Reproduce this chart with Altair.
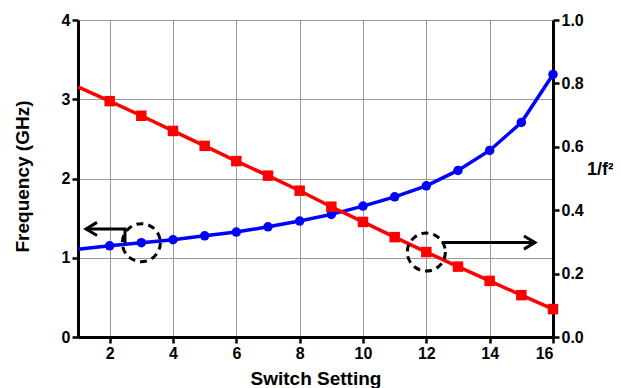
import altair as alt
import pandas as pd

# ---- data ----
switch = list(range(1, 17))
freq_ghz = [1.106, 1.151, 1.19, 1.227, 1.277, 1.324, 1.39, 1.463, 1.547, 1.652,
            1.769, 1.908, 2.102, 2.354, 2.707, 3.313]
inv_f2 = [0.789, 0.744, 0.698, 0.650, 0.603, 0.555, 0.509, 0.4615, 0.411, 0.363,
          0.315, 0.268, 0.222, 0.177, 0.132, 0.088]
x_ticks = [2, 4, 6, 8, 10, 12, 14, 16]
left_ticks = [0, 1, 2, 3, 4]
right_ticks = [0.0, 0.2, 0.4, 0.6, 0.8, 1.0]

# annotation geometry (data units)
arrow_s = [1.253, 2.484, 2.484, 12.485, 15.43]
arrow_f = [1.363, 1.363, 1.186, 1.192, 1.192]
arrow_g = ["a", "a", "a", "b", "b"]
arrow_o = [0, 1, 2, 0, 1]

df = pd.DataFrame({"s": switch, "f": freq_ghz, "r": inv_f2})
marked = df[df.s >= 2]
arrows = pd.DataFrame({"s": arrow_s, "f": arrow_f, "g": arrow_g, "o": arrow_o})
head_left = pd.DataFrame({"s": [arrow_s[0]], "f": [arrow_f[0]]})
head_right = pd.DataFrame({"s": [arrow_s[4]], "f": [arrow_f[4]]})
circ_left = df[df.s == 3]
circ_right = df[df.s == 12]

FONT = "Liberation Sans"

xscale = alt.Scale(domain=[1, 16], nice=False, zero=False)
xaxis = alt.Axis(values=x_ticks, title="Switch Setting", grid=True,
                 gridColor="#9a9a9a", gridWidth=1, titleY=41, titleBaseline="middle",
                 titleFontSize=19, labelFontSize=16)
X = alt.X("s:Q", scale=xscale, axis=xaxis)

lscale = alt.Scale(domain=[0, 4], nice=False, zero=True)
laxis = alt.Axis(values=left_ticks, title="Frequency (GHz)", grid=True,
                 gridColor="#9a9a9a", gridWidth=1, titleX=-56, titleY=156,
                 titleAngle=-90, titleAlign="center", titleBaseline="middle",
                 titleFontSize=19, labelFontSize=16)
YL = alt.Y("f:Q", scale=lscale, axis=laxis)

rscale = alt.Scale(domain=[0, 1], nice=False, zero=True)
raxis = alt.Axis(orient="right", values=right_ticks, format=".1f", grid=False,
                 title="1/f²", titleAngle=0, titleX=47, titleY=149,
                 titleAlign="center", titleBaseline="middle",
                 titleFontSize=18, labelFontSize=16)
YR = alt.Y("r:Q", scale=rscale, axis=raxis)

BLUE = "#0000ff"
RED = "#ff0000"

blue_line = alt.Chart(df).mark_line(color=BLUE, strokeWidth=3.5).encode(x=X, y=YL)
blue_pts = alt.Chart(marked).mark_point(shape="circle", filled=True, color=BLUE,
                                        size=90, opacity=1).encode(x=X, y=YL)
arrow_lines = alt.Chart(arrows).mark_line(color="black", strokeWidth=3,
                                          strokeJoin="miter").encode(
    x=X, y=YL, detail="g:N", order="o:Q")
hl = alt.Chart(head_left).mark_point(shape="M1,-0.6L0,0L1,0.6", size=484,
                                     filled=False, stroke="black", strokeWidth=3,
                                     opacity=1, strokeJoin="miter").encode(x=X, y=YL)
hr = alt.Chart(head_right).mark_point(shape="M-1,-0.6L0,0L-1,0.6", size=484,
                                      filled=False, stroke="black", strokeWidth=3,
                                      opacity=1, strokeJoin="miter").encode(x=X, y=YL)
cl = alt.Chart(circ_left).mark_point(shape="circle", size=1444, filled=False,
                                     stroke="black", strokeWidth=3,
                                     strokeDash=[7, 5], opacity=1).encode(x=X, y=YL)

left_group = alt.layer(blue_line, blue_pts, arrow_lines, hl, hr, cl)

red_line = alt.Chart(df).mark_line(color=RED, strokeWidth=3.5).encode(x=X, y=YR)
red_pts = alt.Chart(marked).mark_point(shape="square", filled=True, color=RED,
                                       size=110, opacity=1).encode(x=X, y=YR)
cr = alt.Chart(circ_right).mark_point(shape="circle", size=1444, filled=False,
                                      stroke="black", strokeWidth=3,
                                      strokeDash=[7, 5], opacity=1).encode(x=X, y=YR)
right_group = alt.layer(red_line, red_pts, cr)

chart = alt.layer(left_group, right_group).resolve_scale(y="independent").properties(
    width=475, height=317,
    autosize=alt.AutoSizeParams(type="none"),
    padding={"left": 70, "top": 12, "right": 60, "bottom": 51},
).configure_view(stroke=None).configure_axis(
    labelFont=FONT, titleFont=FONT, labelFontWeight="bold", titleFontWeight="bold",
    labelColor="black", titleColor="black", domainColor="black", domainWidth=3,
    tickColor="black", tickWidth=2.5, tickSize=6, labelPadding=2,
)

chart.save("out.html", embed_options={"renderer": "svg", "actions": False})
